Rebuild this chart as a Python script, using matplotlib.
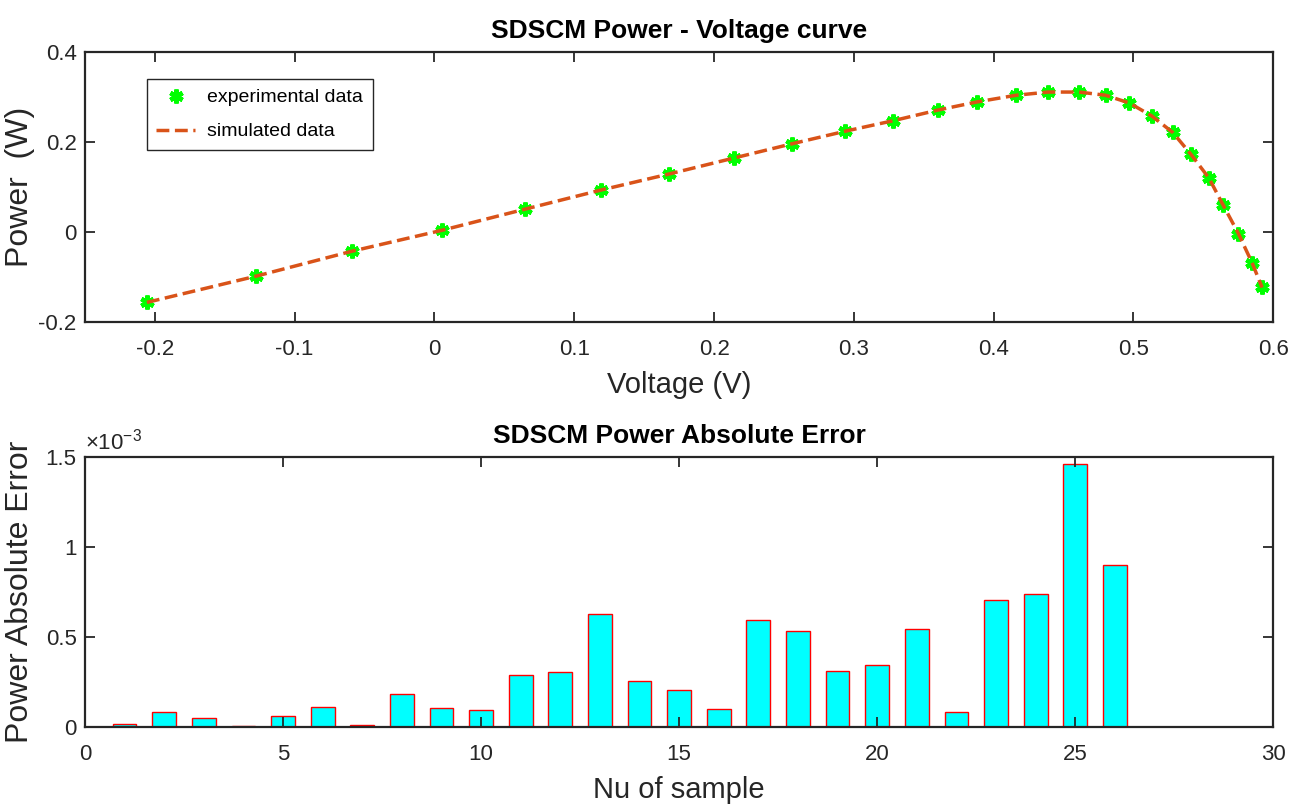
import numpy as np
import matplotlib.pyplot as plt
from matplotlib.ticker import FormatStrFormatter

# measured PV-curve points (V, W)
voltage = [-0.2057, -0.128, -0.0587, 0.0057, 0.065, 0.119, 0.168, 0.214, 0.256, 0.294,
           0.328, 0.360, 0.388, 0.416, 0.439, 0.461, 0.480, 0.497, 0.513, 0.528,
           0.541, 0.554, 0.564, 0.575, 0.585, 0.592]
power_exp = [-0.156, -0.098, -0.042, 0.004, 0.051, 0.093, 0.129, 0.164, 0.196, 0.224,
             0.247, 0.271, 0.289, 0.304, 0.311, 0.311, 0.304, 0.287, 0.258, 0.222,
             0.173, 0.120, 0.060, -0.004, -0.069, -0.122]
power_sim = [-0.1565, -0.0985, -0.0425, 0.0040, 0.0509, 0.0931, 0.1290, 0.1642, 0.1962, 0.2241,
             0.2472, 0.2709, 0.2890, 0.3039, 0.3110, 0.3110, 0.3039, 0.2867, 0.2580, 0.2215,
             0.1729, 0.1197, 0.0606, -0.0033, -0.0697, -0.1235]

# absolute error (x 1e-3)
sample = np.arange(1, 27)
abs_err = [0.018, 0.084, 0.048, 0.004, 0.061, 0.113, 0.013, 0.182, 0.104, 0.097,
           0.291, 0.304, 0.627, 0.254, 0.204, 0.098, 0.594, 0.531, 0.310, 0.343,
           0.544, 0.084, 0.703, 0.737, 1.462, 0.900]

axcol = (0.15, 0.15, 0.15)

plt.rcParams['font.family'] = ['Liberation Sans', 'DejaVu Sans']
plt.rcParams['mathtext.fontset'] = 'custom'
plt.rcParams['mathtext.rm'] = 'Liberation Sans'
plt.rcParams['axes.edgecolor'] = axcol
plt.rcParams['xtick.color'] = axcol
plt.rcParams['ytick.color'] = axcol

fig = plt.figure(figsize=(13.03, 8.10), dpi=100)
ax1 = fig.add_axes([0.0652, 0.6025, 0.912, 0.3333])
ax2 = fig.add_axes([0.0652, 0.1025, 0.912, 0.3333])

for ax in (ax1, ax2):
    ax.tick_params(direction='in', top=True, right=True, length=7, width=1.3,
                   labelsize=16)
    ax.tick_params(axis='x', pad=12)
    ax.tick_params(axis='y', pad=6)
    for s in ax.spines.values():
        s.set_linewidth(1.6)

# top: PV curve
ax1.plot(voltage, power_exp, linestyle='none', marker=(6, 2, 0), markersize=10,
         markeredgewidth=3.2, color=(0, 1, 0), label='experimental data', zorder=2)
ax1.plot(voltage, power_sim, '--', color=(0.85, 0.325, 0.098), linewidth=2.5,
         label='simulated data', zorder=3)
ax1.set_xlim(-0.25, 0.6)
ax1.set_ylim(-0.2, 0.4)
ax1.set_xticks([-0.2, -0.1, 0, 0.1, 0.2, 0.3, 0.4, 0.5, 0.6])
ax1.set_yticks([-0.2, 0, 0.2, 0.4])
ax1.xaxis.set_major_formatter(FormatStrFormatter('%g'))
ax1.yaxis.set_major_formatter(FormatStrFormatter('%g'))
ax1.set_title('SDSCM Power - Voltage curve', fontsize=19, fontweight='bold', pad=10)
ax1.set_xlabel('Voltage (V)', fontsize=21, color=axcol, labelpad=8)
ax1.set_ylabel('Power  (W)', fontsize=23, color=axcol)
ax1.yaxis.set_label_coords(-0.042, 0.5)
leg = ax1.legend(loc='upper left', bbox_to_anchor=(0.052, 0.9), borderaxespad=0,
                 fontsize=14, frameon=True, fancybox=False, edgecolor=axcol,
                 framealpha=1, handlelength=2.0, borderpad=0.5, labelspacing=0.85,
                 handletextpad=0.6)
leg.get_frame().set_linewidth(1.0)

# bottom: absolute error bars
ax2.bar(sample, abs_err, width=0.6, color=(0, 1, 1), edgecolor='red', linewidth=1.0)
ax2.set_xlim(0, 30)
ax2.set_ylim(0, 1.5)
ax2.set_xticks([0, 5, 10, 15, 20, 25, 30])
ax2.set_yticks([0, 0.5, 1, 1.5])
ax2.yaxis.set_major_formatter(FormatStrFormatter('%g'))
ax2.set_title('SDSCM Power Absolute Error', fontsize=19, fontweight='bold', pad=10)
ax2.set_xlabel('Nu of sample', fontsize=21, color=axcol, labelpad=8)
ax2.set_ylabel('Power Absolute Error', fontsize=23, color=axcol)
ax2.yaxis.set_label_coords(-0.042, 0.5)
ax2.text(0.0, 1.01, r'$\times 10^{-3}$', transform=ax2.transAxes, fontsize=16,
         color=axcol, va='bottom', ha='left')

fig.savefig('out.png', dpi=100)
